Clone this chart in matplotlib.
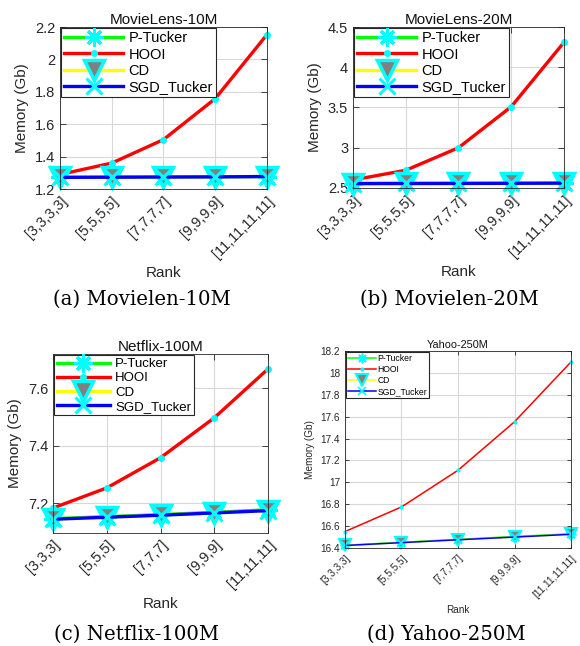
import numpy as np
import matplotlib
matplotlib.use("Agg")
from matplotlib import pyplot as plt

plt.rcParams['font.family'] = ['Liberation Sans', 'DejaVu Sans']

# データ
methods = ["P-Tucker", "HOOI", "CD", "SGD_Tucker"]

ranks_a = ["[3,3,3,3]", "[5,5,5,5]", "[7,7,7,7]", "[9,9,9,9]", "[11,11,11,11]"]
ranks_c = ["[3,3,3]", "[5,5,5]", "[7,7,7]", "[9,9,9]", "[11,11,11]"]

# (a) MovieLens-10M
ptucker_a = [1.272, 1.273, 1.274, 1.275, 1.277]
hooi_a = [1.29, 1.36, 1.505, 1.758, 2.153]
cd_a = [1.272, 1.273, 1.274, 1.275, 1.277]
sgd_a = [1.272, 1.273, 1.274, 1.275, 1.277]

# (b) MovieLens-20M
ptucker_b = [2.555, 2.556, 2.557, 2.558, 2.56]
hooi_b = [2.6, 2.72, 3.0, 3.51, 4.31]
cd_b = [2.555, 2.556, 2.557, 2.558, 2.56]
sgd_b = [2.555, 2.556, 2.557, 2.558, 2.56]

# (c) Netflix-100M
ptucker_c = [7.146, 7.153, 7.16, 7.168, 7.177]
hooi_c = [7.183, 7.253, 7.358, 7.497, 7.667]
cd_c = [7.144, 7.151, 7.158, 7.166, 7.174]
sgd_c = [7.144, 7.151, 7.158, 7.166, 7.174]

# (d) Yahoo-250M
ptucker_d = [16.425, 16.452, 16.479, 16.505, 16.53]
hooi_d = [16.55, 16.775, 17.11, 17.553, 18.1]
cd_d = [16.423, 16.449, 16.475, 16.5, 16.525]
sgd_d = [16.423, 16.449, 16.475, 16.5, 16.525]

panels = [
    dict(title="MovieLens-10M", caption="(a) Movielen-10M", ticks=ranks_a,
         series=[ptucker_a, hooi_a, cd_a, sgd_a], ylim=(1.2, 2.2),
         yticks=[1.2, 1.4, 1.6, 1.8, 2.0, 2.2], ylabels=["1.2", "1.4", "1.6", "1.8", "2", "2.2"],
         rect=[0.1034, 0.7074, 0.3569, 0.2508], small=False, cap=(0.245, 0.522)),
    dict(title="MovieLens-20M", caption="(b) Movielen-20M", ticks=ranks_a,
         series=[ptucker_b, hooi_b, cd_b, sgd_b], ylim=(2.5, 4.5),
         yticks=[2.5, 3, 3.5, 4, 4.5], ylabels=["2.5", "3", "3.5", "4", "4.5"],
         rect=[0.6086, 0.7090, 0.3638, 0.2492], small=False, cap=(0.774, 0.522)),
    dict(title="Netflix-100M", caption="(c) Netflix-100M", ticks=ranks_c,
         series=[ptucker_c, hooi_c, cd_c, sgd_c], ylim=(7.096, 7.719),
         yticks=[7.2, 7.4, 7.6], ylabels=["7.2", "7.4", "7.6"],
         rect=[0.0914, 0.1749, 0.3707, 0.2771], small=False, cap=(0.236, 0.004)),
    dict(title="Yahoo-250M", caption="(d) Yahoo-250M", ticks=ranks_a,
         series=[ptucker_d, hooi_d, cd_d, sgd_d], ylim=(16.4, 18.2),
         yticks=[16.4, 16.6, 16.8, 17, 17.2, 17.4, 17.6, 17.8, 18, 18.2],
         ylabels=["16.4", "16.6", "16.8", "17", "17.2", "17.4", "17.6", "17.8", "18", "18.2"],
         rect=[0.5948, 0.1517, 0.3897, 0.3050], small=True, cap=(0.769, 0.004)),
]

line_colors = ["#00ff00", "#ff0000", "#ffff00", "#0000ff"]
edge = "#262626"


def draw(fig, p):
    ax = fig.add_axes(p["rect"])
    x = np.arange(len(p["ticks"]))
    s = p["small"]
    lw = 1.1 if s else 2.4
    fs = 7.2 if s else 10.5
    lfs = 6.2 if s else 10.5
    if p["title"] == "Netflix-100M":
        lfs = 9.5

    styles = [
        dict(marker=(8, 2, 0), markersize=7 if s else 13, markeredgewidth=1.2 if s else 2.2,
             markeredgecolor="cyan", markerfacecolor="cyan"),
        dict(marker="o", markersize=2 if s else 4, markeredgecolor="cyan", markerfacecolor="cyan"),
        dict(marker="v", markersize=8 if s else 15, markeredgewidth=1.5 if s else 2.5,
             markeredgecolor="cyan", markerfacecolor="#808080"),
        dict(marker="x", markersize=6 if s else 11, markeredgewidth=1.2 if s else 2.2,
             markeredgecolor="cyan"),
    ]
    for name, y, c, st in zip(methods, p["series"], line_colors, styles):
        ax.plot(x, y, color=c, lw=lw, label=name, clip_on=False, **st)

    ax.set_xlim(0, len(x) - 1)
    ax.set_ylim(*p["ylim"])
    ax.set_xticks(x)
    ax.set_xticklabels(p["ticks"], rotation=45, ha="right", rotation_mode="anchor",
                       fontsize=fs)
    ax.set_yticks(p["yticks"])
    ax.set_yticklabels(p["ylabels"], fontsize=fs)
    ax.tick_params(direction="in", top=True, right=True, length=3 if s else 4,
                   colors=edge, labelcolor="#262626", width=0.6)
    ax.grid(True, color="#d8d8d8", lw=0.8)
    ax.set_axisbelow(True)
    for sp in ax.spines.values():
        sp.set_color(edge)
        sp.set_linewidth(0.6)
    ax.set_title(p["title"], fontsize=7.8 if s else 11, pad=2, color="#111111")
    ax.set_ylabel("Memory (Gb)", fontsize=7.2 if s else 11, color="#262626")
    ax.set_xlabel("Rank", fontsize=7.2 if s else 11, color="#262626")
    leg = ax.legend(loc="upper left", fontsize=lfs, handlelength=4.0 if not s else 3.3,
                    borderaxespad=0.1, borderpad=0.2, labelspacing=0.15 if not s else 0.25,
                    handletextpad=0.4 if not s else 0.2, fancybox=False, framealpha=1,
                    edgecolor=edge)
    leg.get_frame().set_linewidth(0.8)
    fig.text(p["cap"][0], p["cap"][1], p["caption"], ha="center", va="bottom",
             fontsize=14.2, family=["DejaVu Serif"])
    return ax


def main():
    fig = plt.figure(figsize=(5.8, 6.46), dpi=100)
    for p in panels:
        draw(fig, p)
    fig.savefig("out.png", dpi=100)


if __name__ == '__main__':
    main()
